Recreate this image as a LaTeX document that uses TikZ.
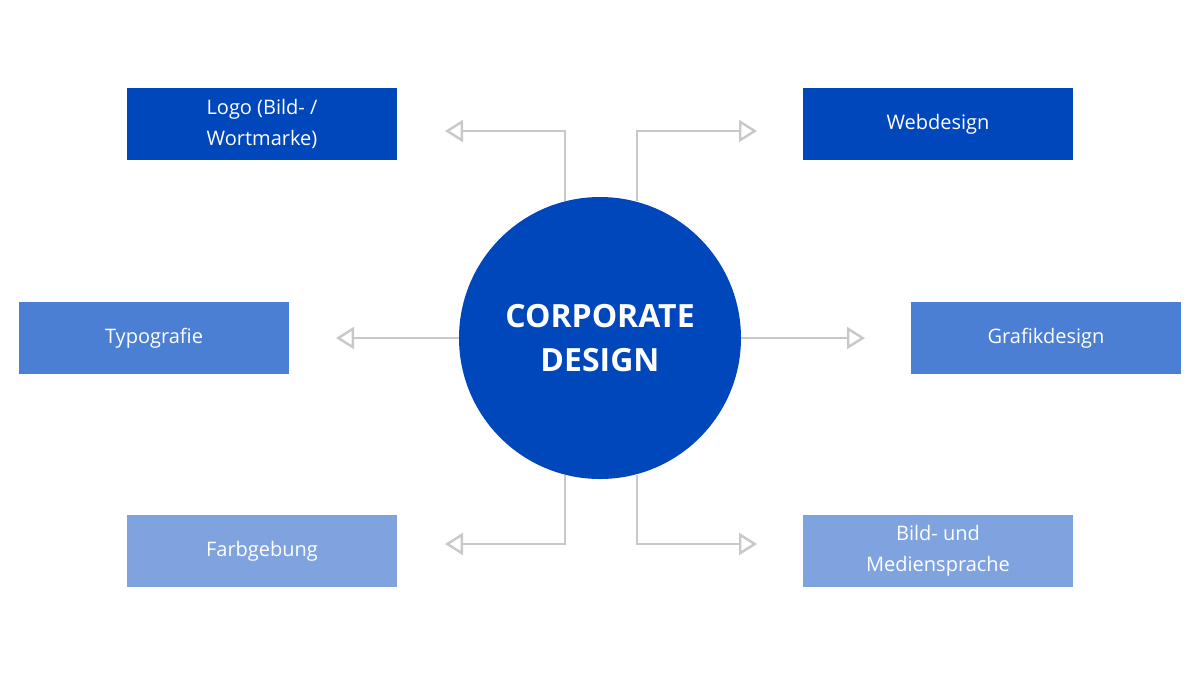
\documentclass[tikz,border=0pt]{standalone}
\usepackage{fontspec}
\setmainfont{Open Sans}
\usetikzlibrary{arrows.meta, positioning}

\definecolor{darkblue}{HTML}{0047BB}
\definecolor{midblue}{HTML}{4A7FD4}
\definecolor{lightblue}{HTML}{7FA3DE}
\definecolor{linegray}{HTML}{C8C8C8}

\tikzset{
  topic/.style={minimum width=135pt, minimum height=36pt, text=white, align=center, font=\fontsize{10}{15.5}\selectfont, inner sep=0pt},
  link/.style={draw=linegray, line width=1.2pt, -{Triangle[open, length=9pt, width=11pt]}}
}

\begin{document}
\begin{tikzpicture}[x=0.5pt, y=-0.5pt]
		% Canvas
		\useasboundingbox (0,0) rectangle (1200,675);
		
		% Centre
		\node[circle, fill=darkblue, minimum size=141pt, inner sep=0pt, text=white, align=center,
		      font=\bfseries\fontsize{16}{22}\selectfont] (core) at (600,338) {CORPORATE\\DESIGN};
		
		% Topics
		\node[topic, fill=darkblue] (logo) at (262,124) {Logo (Bild- /\\Wortmarke)};
		\node[topic, fill=darkblue] (web) at (938,124) {Webdesign};
		\node[topic, fill=midblue] (typo) at (154,338) {Typografie};
		\node[topic, fill=midblue] (grafik) at (1046,338) {Grafikdesign};
		\node[topic, fill=lightblue] (farbe) at (262,551) {Farbgebung};
		\node[topic, fill=lightblue] (bild) at (938,551) {Bild- und\\Mediensprache};
		
		% Ends of the connectors
		\coordinate (tl) at (565,201);
		\coordinate (tr) at (637,201);
		\coordinate (bl) at (565,475);
		\coordinate (br) at (637,475);
		\coordinate (tlEnd) at (445,131);
		\coordinate (trEnd) at (757,131);
		\coordinate (mlEnd) at (336,338);
		\coordinate (mrEnd) at (865,338);
		\coordinate (blEnd) at (445,544);
		\coordinate (brEnd) at (757,544);
		
		% Connectors
		\draw[link] (tl) |- (tlEnd);
		\draw[link] (tr) |- (trEnd);
		\draw[link] (core.west) -- (mlEnd);
		\draw[link] (core.east) -- (mrEnd);
		\draw[link] (bl) |- (blEnd);
		\draw[link] (br) |- (brEnd);
	\end{tikzpicture}
\end{document}
